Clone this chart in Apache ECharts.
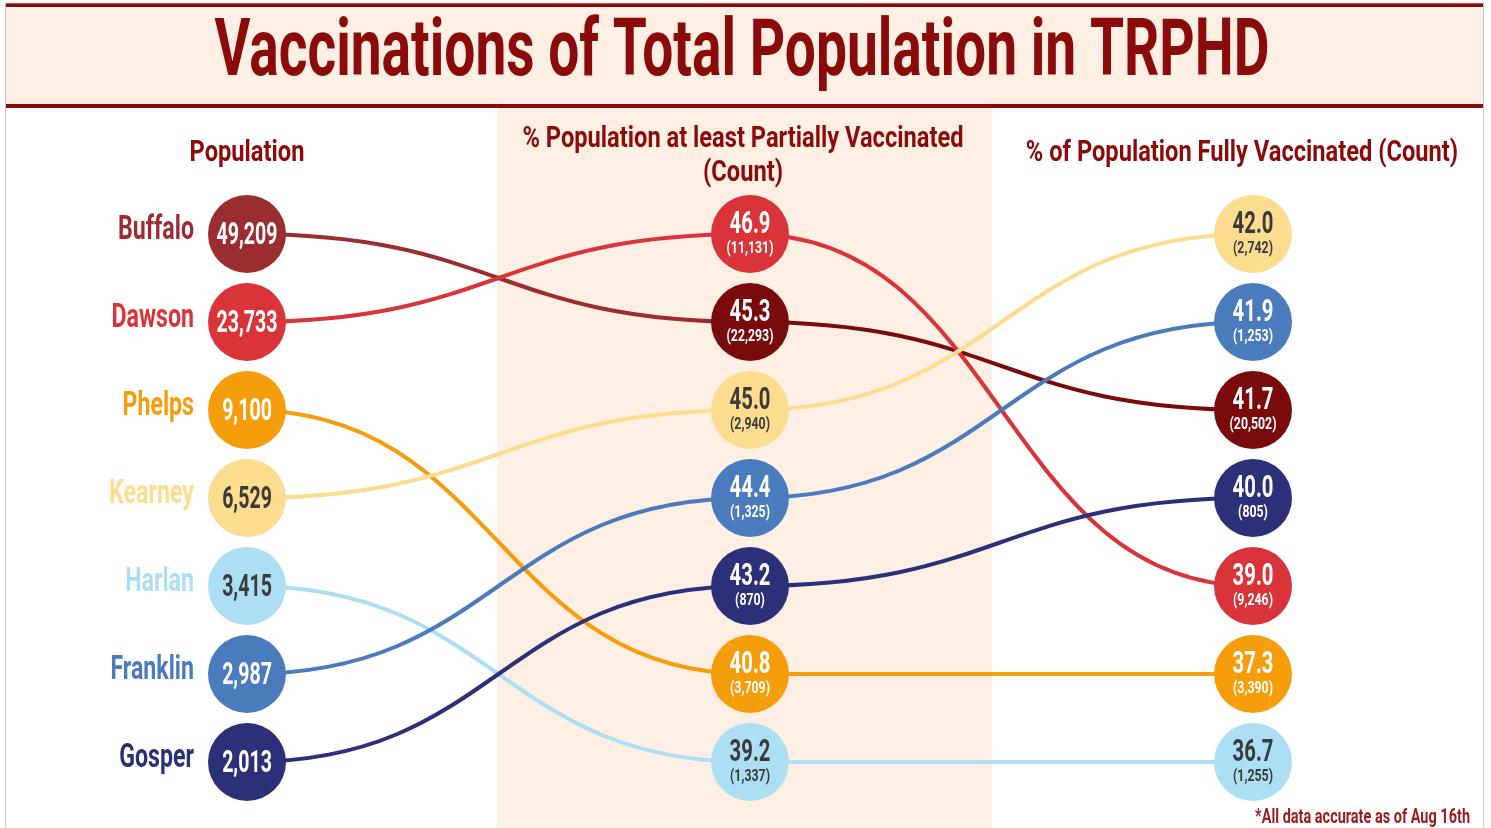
<!DOCTYPE html>
<html><head><meta charset="utf-8">
<script src="https://cdn.jsdelivr.net/npm/echarts@6/dist/echarts.min.js"></script>
<style>html,body{margin:0;padding:0;background:#fff}#c{width:1491px;height:828px}</style>
</head><body><div id="c"></div>
<script>
// ---------- data ----------
const counties = ['Buffalo', 'Dawson', 'Phelps', 'Kearney', 'Harlan', 'Franklin', 'Gosper'];
const population = [49209, 23733, 9100, 6529, 3415, 2987, 2013];
const partialPct = [45.3, 46.9, 40.8, 45.0, 39.2, 44.4, 43.2];
const partialCount = [22293, 11131, 3709, 2940, 1337, 1325, 870];
const fullPct = [41.7, 39.0, 37.3, 42.0, 36.7, 41.9, 40.0];
const fullCount = [20502, 9246, 3390, 2742, 1255, 1253, 805];
const titleText = 'Vaccinations of Total Population in TRPHD';
const columnTitles = ['Population', '% Population at least Partially Vaccinated', '(Count)', '% of Population Fully Vaccinated (Count)'];
const footnote = '*All data accurate as of Aug 16th';

// ---------- styles ----------
const colorsFirst = ['#9b2c2f', '#d9343a', '#f69d0c', '#fcdc8e', '#acdff3', '#4a7bbd', '#2b3079'];
const colorsLater = ['#7a0b0d', '#d9343a', '#f69d0c', '#fcdc8e', '#acdff3', '#4a7bbd', '#2b3079'];
const darkText = [false, false, false, true, true, false, false];
const TITLE_RED = '#8b0a0a';
const FONT = 'Roboto, "Noto Sans", sans-serif';
const R = 39;

const mctx = document.createElement('canvas').getContext('2d');
function tw(text, size) { mctx.font = 'bold ' + size + 'px ' + FONT; return mctx.measureText(text).width; }
const SX_TITLE = 1055 / tw(titleText, 80);
const SX_HEAD = 441 / tw(columnTitles[1], 30);
const SX = 76 / tw('Buffalo', 32);

function ranks(arr) {
  const idx = arr.map((v, i) => i).sort((a, b) => arr[b] - arr[a]);
  const r = new Array(arr.length);
  idx.forEach((ci, k) => { r[ci] = k; });
  return r;
}
const r0 = ranks(population), r1 = ranks(partialPct), r2 = ranks(fullPct);
const fmt = v => v.toLocaleString('en-US');

const linkData = [];
counties.forEach((c, i) => {
  linkData.push([0, r0[i], 1, r1[i], i]);
  linkData.push([1, r1[i], 2, r2[i], i]);
});
const nodeData = [];
counties.forEach((c, i) => {
  nodeData.push([0, r0[i], i]);
  nodeData.push([1, r1[i], i]);
  nodeData.push([2, r2[i], i]);
});

function txt(x, y, text, size, fill, align, sx, weight, sy) {
  return {
    type: 'text', x: x, y: y, scaleX: sx, scaleY: sy || 1,
    style: { text: text, fontSize: size, fontFamily: FONT, fontWeight: weight || 'bold', fill: fill, align: align || 'center', verticalAlign: 'middle' }
  };
}

const chart = echarts.init(document.getElementById('c'));
chart.setOption({
  backgroundColor: '#ffffff',
  animation: false,
  grid: { left: 247, right: 238, top: 234, bottom: 66 },
  xAxis: { type: 'value', min: 0, max: 2, show: false },
  yAxis: { type: 'value', min: 0, max: 6, inverse: true, show: false },
  graphic: [
    { type: 'rect', z: -10, shape: { x: 497, y: 108, width: 495, height: 720 }, style: { fill: '#fdefe3' } },
    { type: 'rect', z: -10, shape: { x: 5, y: 5, width: 1479, height: 101 }, style: { fill: '#fdefe3' } },
    { type: 'rect', z: -9, shape: { x: 5, y: 3, width: 1479, height: 4 }, style: { fill: TITLE_RED } },
    { type: 'rect', z: -9, shape: { x: 5, y: 104, width: 1479, height: 4 }, style: { fill: TITLE_RED } },
    { type: 'rect', z: -9, shape: { x: 5.5, y: 3, width: 1478, height: 830 }, style: { fill: null, stroke: '#c8c8c8', lineWidth: 1 } },
    Object.assign(txt(742, 55, titleText, 80, TITLE_RED, 'center', SX_TITLE), { z: 10 }),
    Object.assign(txt(247, 153, columnTitles[0], 30, TITLE_RED, 'center', SX_HEAD), { z: 10 }),
    Object.assign(txt(743, 139, columnTitles[1], 30, TITLE_RED, 'center', SX_HEAD), { z: 10 }),
    Object.assign(txt(743, 173, columnTitles[2], 30, TITLE_RED, 'center', SX_HEAD), { z: 10 }),
    Object.assign(txt(1242, 153, columnTitles[3], 30, TITLE_RED, 'center', SX_HEAD), { z: 10 }),
    Object.assign(txt(1470, 818, footnote, 20, '#9b1c1c', 'right', SX), { z: 10 })
  ],
  series: [
    {
      type: 'custom', z: 2,
      encode: { x: [0, 2], y: [1, 3] },
      data: linkData,
      renderItem: function (params, api) {
        const a = api.coord([api.value(0), api.value(1)]);
        const b = api.coord([api.value(2), api.value(3)]);
        const ci = api.value(4);
        const mid = (a[0] + b[0]) / 2;
        const col = api.value(0) === 0 ? colorsFirst[ci] : colorsLater[ci];
        return {
          type: 'bezierCurve',
          shape: { x1: a[0], y1: a[1], x2: b[0], y2: b[1], cpx1: mid, cpy1: a[1], cpx2: mid, cpy2: b[1] },
          style: { stroke: col, lineWidth: 4, fill: null }
        };
      }
    },
    {
      type: 'custom', z: 3,
      encode: { x: 0, y: 1 },
      data: nodeData,
      renderItem: function (params, api) {
        const col = api.value(0);
        const ci = api.value(2);
        const p = api.coord([col, api.value(1)]);
        const fill = col === 0 ? colorsFirst[ci] : colorsLater[ci];
        const tc = darkText[ci] ? '#3a3a3a' : '#ffffff';
        const children = [{ type: 'circle', shape: { cx: p[0], cy: p[1], r: R }, style: { fill: fill } }];
        if (col === 0) {
          children.push(txt(p[0], p[1] + 2, fmt(population[ci]), 27, tc, 'center', SX, 'bold', 1.15));
          children.push(txt(p[0] - 53, p[1] - 3, counties[ci], 32, colorsFirst[ci], 'right', SX, 'bold', 1.05));
        } else {
          const pct = col === 1 ? partialPct[ci] : fullPct[ci];
          const cnt = col === 1 ? partialCount[ci] : fullCount[ci];
          children.push(txt(p[0], p[1] - 9, pct.toFixed(1), 28, tc, 'center', SX, 'bold', 1.1));
          children.push(txt(p[0], p[1] + 15, '(' + fmt(cnt) + ')', 17, tc, 'center', SX, 'bold'));
        }
        return { type: 'group', children: children };
      }
    }
  ]
});
</script>
</body></html>
